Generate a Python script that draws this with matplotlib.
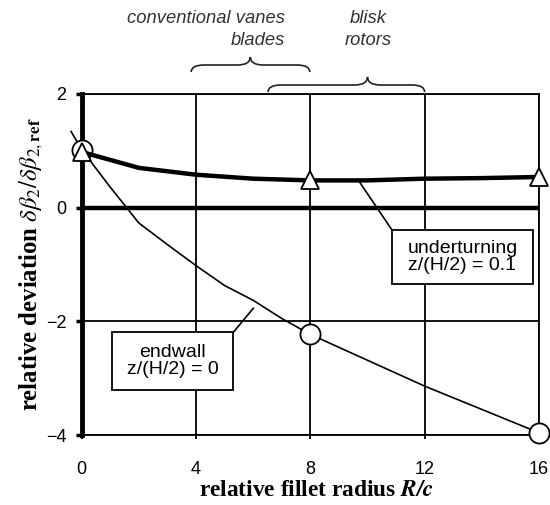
import matplotlib
matplotlib.use("Agg")
import matplotlib.pyplot as plt
from matplotlib.path import Path
from matplotlib.patches import PathPatch, Rectangle
from matplotlib.lines import Line2D
import matplotlib.transforms as mtransforms

plt.rcParams['mathtext.fontset'] = 'stix'
plt.rcParams['font.family'] = ['Liberation Sans', 'DejaVu Sans']

# ---- data ----
x_ticks = [0, 4, 8, 12, 16]
y_ticks = [-4, -2, 0, 2]

endwall_x = [-0.37, 0, 1, 2, 3, 4, 5, 6, 7, 8, 12, 16]
endwall_y = [1.34, 1.02, 0.36, -0.27, -0.65, -1.02, -1.37, -1.63, -1.95, -2.23, -3.14, -3.96]
endwall_marks = [1, 9, 11]

under_x = [0, 2, 4, 6, 8, 10, 12, 14, 16]
under_y = [0.98, 0.70, 0.58, 0.51, 0.48, 0.48, 0.51, 0.52, 0.54]
under_marks = [0, 4, 8]

W, H = 550, 505
def fx(x): return x / W
def fy(y): return 1 - y / H

fig = plt.figure(figsize=(5.5, 5.05), dpi=100)
ax = fig.add_axes([fx(81.7), fy(435), (539 - 81.7) / W, 341 / H])

ax.set_xlim(0, 16)
ax.set_ylim(-4, 2)
ax.set_xticks(x_ticks)
ax.set_yticks(y_ticks)
ax.grid(True, color='black', lw=1.3)
ax.set_axisbelow(True)
for s in ['top', 'right', 'bottom']:
    ax.spines[s].set_linewidth(1.3)
ax.spines['left'].set_linewidth(3.5)
ax.axhline(0, color='black', lw=3.2, zorder=2)

ax.tick_params(axis='x', direction='out', length=3, width=1.3, pad=16, labelsize=13)
ax.tick_params(axis='y', direction='out', length=4, width=2.5, pad=7, labelsize=13)

ax.plot(endwall_x, endwall_y, color='black', lw=1.2, marker='o', ms=14.5,
        mfc='white', mec='black', mew=1.3, markevery=endwall_marks,
        clip_on=False, zorder=3)
ax.plot(under_x, under_y, color='black', lw=3.2, marker='^', ms=13,
        mfc='white', mec='black', mew=1.3, markevery=under_marks,
        clip_on=False, zorder=4)

# axis labels
fig.text(fx(317), fy(490), r"relative fillet radius $\mathbfit{R/c}$",
         ha='center', va='center', fontsize=16.8, family='Liberation Serif',
         weight='bold')
fig.text(fx(31), fy(264),
         r"relative deviation $\delta\beta_2/\delta\beta_{2,\mathbf{ref}}$",
         ha='center', va='center', rotation=90, fontsize=17.8,
         family='Liberation Serif', weight='bold')

# top annotations
fig.text(fx(285), fy(29.5), "conventional vanes\nblades", ha='right', va='center',
         multialignment='right', fontsize=13.2, style='italic', color='#333333',
         linespacing=1.4)
fig.text(fx(368), fy(29.5), "blisk\nrotors", ha='center', va='center',
         fontsize=13.2, style='italic', color='#333333', linespacing=1.4)

def brace(x0, x1, xt, yend, yh, ytip, r=0.45):
    trans = mtransforms.blended_transform_factory(ax.transData, ax.transAxes)
    verts = [(x0, yend), (x0, yh), (x0 + r, yh),
             (xt - r, yh),
             (xt, yh), (xt, ytip),
             (xt, yh), (xt + r, yh),
             (x1 - r, yh),
             (x1, yh), (x1, yend)]
    codes = [Path.MOVETO, Path.CURVE3, Path.CURVE3,
             Path.LINETO,
             Path.CURVE3, Path.CURVE3,
             Path.CURVE3, Path.CURVE3,
             Path.LINETO,
             Path.CURVE3, Path.CURVE3]
    p = PathPatch(Path(verts, codes), fill=False, lw=1.2, ec='#222222',
                  transform=trans, clip_on=False)
    ax.add_patch(p)

def ay(ypix):
    return (435 - ypix) / 341

brace(3.83, 7.98, 5.9, ay(72), ay(65), ay(57))
brace(6.52, 12.0, 10.0, ay(92), ay(85), ay(77))

# text boxes
def box(l, t, r, b, text, xc, yc):
    fig.add_artist(Rectangle((fx(l), fy(b)), (r - l) / W, (b - t) / H,
                             transform=fig.transFigure, fill=True, fc='white',
                             ec='black', lw=1.3, zorder=5))
    fig.text(fx(xc), fy(yc), text, ha='center', va='center', fontsize=14,
             linespacing=1.0, zorder=6)

box(392, 230, 533, 284, "underturning\nz/(H/2) = 0.1", 462.5, 257)
box(112.3, 332.3, 233.3, 390, "endwall\nz/(H/2) = 0", 172.8, 361)

fig.add_artist(Line2D([fx(360), fx(392)], [fy(182.7), fy(230)], color='black',
                      lw=1.2, transform=fig.transFigure, zorder=5))
fig.add_artist(Line2D([fx(253.3), fx(233.3)], [fy(308.3), fy(332.3)], color='black',
                      lw=1.2, transform=fig.transFigure, zorder=5))

fig.savefig("out.png", dpi=100)
